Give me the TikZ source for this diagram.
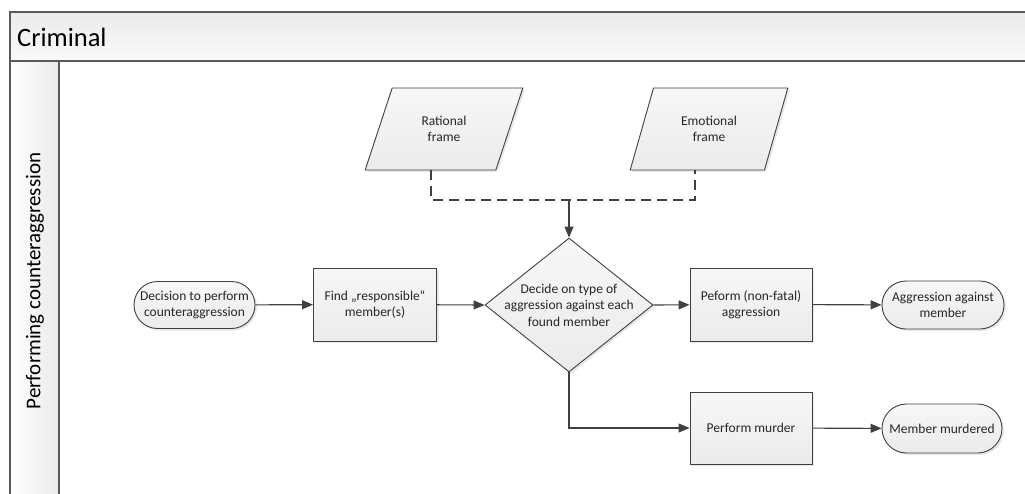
\documentclass[tikz,border=0pt]{standalone}
\usepackage{fontspec}
\setmainfont{Carlito}
\usetikzlibrary{arrows.meta,shapes.geometric,shapes.misc,shadows,calc}

\definecolor{linec}{HTML}{404040}
\definecolor{framec}{HTML}{5A5A5A}
\definecolor{txt}{HTML}{262626}
\definecolor{shapetop}{HTML}{F7F7F7}
\definecolor{shapebot}{HTML}{EBEBEB}

\begin{document}
\begin{tikzpicture}[x=1pt,y=-1pt,
  shp/.style={draw=linec, line width=0.9pt, top color=shapetop, bottom color=shapebot,
    text=txt, font=\fontsize{13.5}{16.5}\selectfont, align=center, inner sep=0pt,
    drop shadow={shadow xshift=2pt, shadow yshift=-2pt, opacity=.15, fill=black!60}},
  taskbox/.style={shp, rectangle, minimum width=123pt, minimum height=73pt},
  term/.style={shp, rounded rectangle, minimum height=47pt},
  frameio/.style={shp, trapezium, trapezium left angle=65.7, trapezium right angle=114.3,
    trapezium stretches=true, minimum width=158pt, minimum height=82pt},
  decbox/.style={shp, diamond, minimum width=168pt, minimum height=134pt},
  label/.style={text=txt, font=\fontsize{13.5}{16.5}\selectfont, align=center, inner sep=0pt},
  flow/.style={draw=linec, line width=1.1pt, -{Triangle[length=11pt,width=9pt]}},
  infl/.style={draw=linec, line width=1.1pt, dash pattern=on 10pt off 6pt},
  laneline/.style={draw=framec, line width=1.4pt}
]
\useasboundingbox (0,0) rectangle (1025,493);
\clip (0,0) rectangle (1025,493);

% pool header and lane title column
\shade[top color=black!8, bottom color=black!2] (10,12) rectangle (1030,61);
\shade[left color=white, right color=black!8] (10,61) rectangle (59,500);
\draw[laneline] (1030,12) -- (10,12) -- (10,500);
\draw[laneline] (10,61) -- (1030,61);
\draw[laneline] (59,61) -- (59,500);
\node[anchor=west, inner sep=0pt, text=black, font=\fontsize{26.5}{30}\selectfont] (pool) at (17,37) {Criminal};
\node[rotate=90, inner sep=0pt, text=black, font=\fontsize{21}{24}\selectfont] (lane) at (35,281) {Performing counteraggression};

% frames feeding the decision
\node[frameio] (rf) at (444,129) {Rational\\frame};
\node[frameio] (ef) at (709,129) {Emotional\\frame};

% main flow
\node[term, minimum width=121pt] (start) at (194.5,305) {Decision to perform\\counteraggression};
\node[taskbox] (find) at (375,304.5) {Find „responsible“\\member(s)};
\node[decbox] (dec) at (569,305) {};
\node[label] (dectext) at (dec.center) {Decide on type of\\aggression against each\\found member};
\node[taskbox, minimum width=122pt] (peform) at (751,304.5) {Peform (non-fatal)\\aggression};
\node[term, minimum width=122pt, minimum height=48pt] (aggr) at (943,305) {Aggression against\\member};
\node[taskbox, minimum width=122pt, minimum height=72pt] (murder) at (751,428) {Perform murder};
\node[term, minimum width=120pt, minimum height=49pt] (murdered) at (942,428.5) {Member murdered};

% dashed merge of the two frames
\coordinate (join) at (569,200);
\draw[infl] ($(rf.center)+(-13,41)$) |- (join) -| ($(ef.center)+(-14,41)$);
\draw[flow] (join) -- (dec.north);

\draw[flow] (start) -- (find);
\draw[flow] (find) -- (dec.west);
\draw[flow] (dec.east) -- (peform);
\draw[flow] (peform) -- (aggr);
\draw[flow] (dec.south) |- (murder.west);
\draw[flow] (murder) -- (murdered);
\end{tikzpicture}
\end{document}
